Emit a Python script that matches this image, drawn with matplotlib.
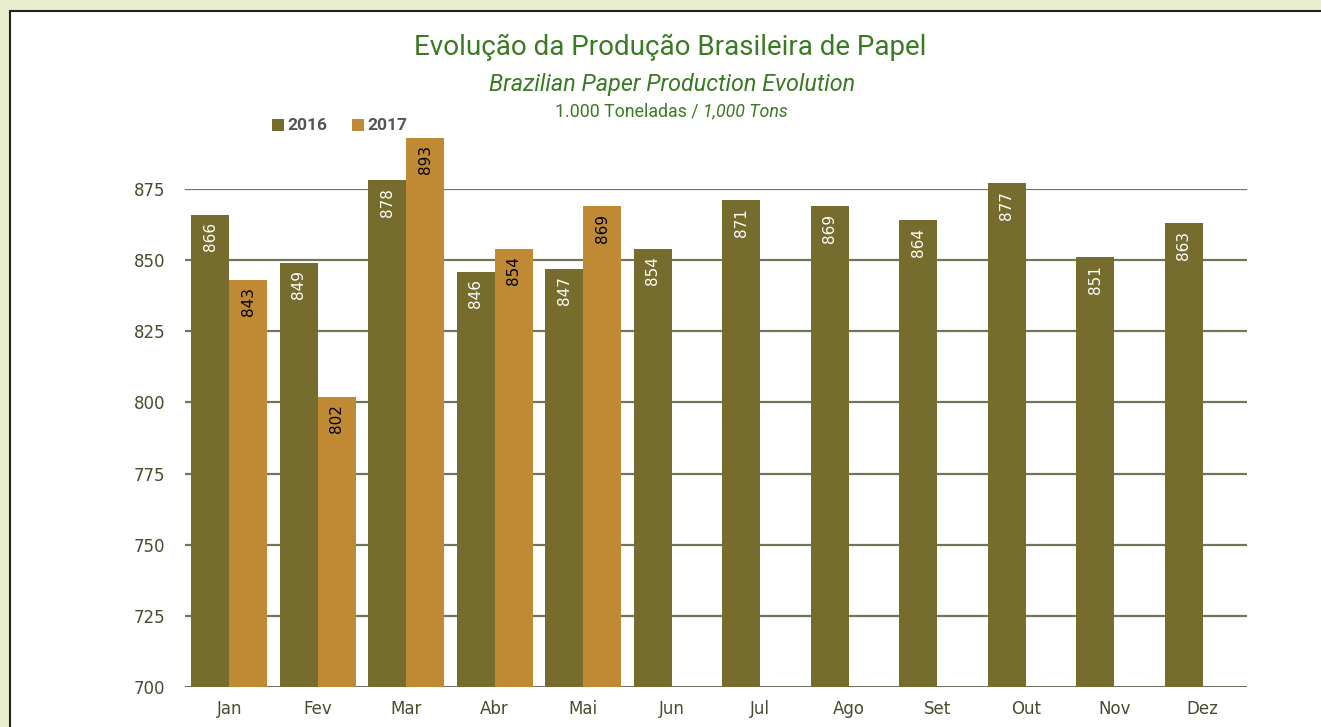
import numpy as np
import matplotlib.pyplot as plt
from matplotlib.patches import Rectangle

months = ['Jan', 'Fev', 'Mar', 'Abr', 'Mai', 'Jun', 'Jul', 'Ago', 'Set', 'Out', 'Nov', 'Dez']
prod_2016 = [866, 849, 878, 846, 847, 854, 871, 869, 864, 877, 851, 863]
prod_2017 = [843, 802, 893, 854, 869]
yticks = [700, 725, 750, 775, 800, 825, 850, 875]

c16 = '#756C2E'
c17 = '#BF8A33'
green = '#3A7A22'
tfont = ['Roboto', 'DejaVu Sans']

fig = plt.figure(figsize=(13.21, 7.27), dpi=100)
fig.patch.set_facecolor('#E8EDCC')
W, H = 1321, 727

# white panel with black border
panel = Rectangle((10 / W, -0.05), 1.1, 1 - 11 / H + 0.05, transform=fig.transFigure,
                  facecolor='white', edgecolor='#222222', linewidth=1.5, zorder=-5)
fig.patches.append(panel)

ax = fig.add_axes([185 / W, 1 - 687 / H, (1247 - 185) / W, (687 - 189) / H])
ax.set_facecolor('none')
ax.set_zorder(2)
x = np.arange(len(months))
w = 0.43
ax.set_xlim(-0.5, 11.5)
ax.set_ylim(700, 875)

for y in yticks[1:]:
    ax.axhline(y, color='#6F7754', lw=1.6, zorder=1)
ax.axhline(700, color='#3C3C2A', lw=1.8, zorder=1)

ax.bar(x - w / 2, np.array(prod_2016) - 700, w, bottom=700, color=c16, zorder=2, clip_on=False)
x17 = x[:len(prod_2017)]
ax.bar(x17 + w / 2, np.array(prod_2017) - 700, w, bottom=700, color=c17, zorder=2, clip_on=False)

for xi, v in zip(x, prod_2016):
    ax.text(xi - w / 2, v - 2.6, str(v), rotation=90, ha='center', va='top',
            color='white', fontsize=11, zorder=3, clip_on=False)
for xi, v in zip(x17, prod_2017):
    ax.text(xi + w / 2, v - 2.6, str(v), rotation=90, ha='center', va='top',
            color='black', fontsize=11, zorder=3, clip_on=False)

ax.set_xticks(x)
ax.set_xticklabels(months, color='#4A4A2E', fontsize=12)
ax.set_yticks(yticks)
ax.set_yticklabels([str(t) for t in yticks], color='#4A4A2E', fontsize=12)
ax.tick_params(axis='x', length=0, pad=9)
ax.tick_params(axis='y', length=0, pad=14)
for s in ax.spines.values():
    s.set_visible(False)

# titles
fig.text(670 / W, 1 - 47 / H, 'Evolução da Produção Brasileira de Papel', ha='center', va='center',
         color=green, fontsize=20, family=tfont)
fig.text(672 / W, 1 - 85 / H, 'Brazilian Paper Production Evolution', ha='center', va='center',
         color=green, fontsize=16.8, style='italic', family=tfont)
fig.text(703 / W, 1 - 111 / H, '1.000 Toneladas / ', ha='right', va='center',
         color=green, fontsize=12.8, family=tfont)
fig.text(703 / W, 1 - 111 / H, '1,000 Tons', ha='left', va='center',
         color=green, fontsize=12.8, style='italic', family=tfont)

# legend
for lx, col, lab in [(272, c16, '2016'), (352, c17, '2017')]:
    fig.patches.append(Rectangle((lx / W, 1 - 131 / H), 12 / W, 12 / H, transform=fig.transFigure,
                                 facecolor=col, edgecolor='none'))
    fig.text((lx + 15) / W, 1 - 125 / H, lab, ha='left', va='center', color='#555555',
             fontsize=12.5, fontweight='bold', family=tfont)

fig.savefig('out.png', dpi=100, facecolor=fig.get_facecolor())
